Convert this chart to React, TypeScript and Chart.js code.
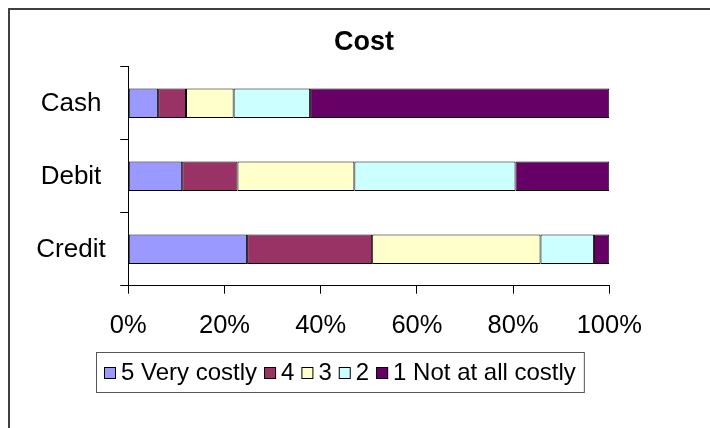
import React, { useEffect, useRef } from "react";
import { Chart, registerables } from "chart.js";

Chart.register(...registerables);

// Survey answers: share of respondents (in %) per payment method
const categories = ["Cash", "Debit", "Credit"];
const seriesLabels = ["5 Very costly", "4", "3", "2", "1 Not at all costly"];
const veryCostly = [6.2, 11.2, 24.7];
const rating4 = [5.8, 11.5, 26.0];
const rating3 = [9.9, 24.3, 35.0];
const rating2 = [15.9, 33.5, 11.1];
const notCostly = [62.2, 19.5, 3.2];
const seriesColors = ["#9999FF", "#993366", "#FFFFCC", "#CCFFFF", "#660066"];
const xTicks = [0, 20, 40, 60, 80, 100];
const chartTitle = "Cost";

const FONT = '"Liberation Sans", Arial, sans-serif';

// White background, outer frame, title and centred category labels
const framePlugin = {
  id: "frame",
  beforeDraw(chart: any) {
    const { ctx } = chart;
    ctx.save();
    ctx.fillStyle = "#ffffff";
    ctx.fillRect(0, 0, chart.width, chart.height);
    ctx.strokeStyle = "#404040";
    ctx.lineWidth = 2;
    ctx.strokeRect(9, 9, 1000, 1000);
    ctx.restore();
  },
  afterDraw(chart: any) {
    const { ctx } = chart;
    const yScale = chart.scales.y;
    ctx.save();
    ctx.fillStyle = "#000";
    ctx.textAlign = "center";
    ctx.textBaseline = "middle";
    ctx.font = `bold 27px ${FONT}`;
    ctx.fillText(chartTitle, 364, 43);
    ctx.font = `26px ${FONT}`;
    chart.data.labels.forEach((label: string, i: number) => {
      ctx.fillText(label, 71, yScale.getPixelForValue(i) + 1);
    });
    ctx.restore();
  },
};

// Boxed legend below the axis
const boxedLegendPlugin = {
  id: "boxedLegend",
  afterDraw(chart: any) {
    const { ctx } = chart;
    const datasets = chart.data.datasets;
    const x0 = 96;
    const y0 = 352;
    const h = 40;
    const sw = 12;
    const gapSwatchText = 5;
    const gapItems = 7;
    const padX = 8;
    ctx.save();
    ctx.font = `24px ${FONT}`;
    let w = padX;
    const widths = datasets.map((d: any) => ctx.measureText(d.label).width);
    widths.forEach((tw: number, i: number) => {
      w += sw + gapSwatchText + tw + (i < widths.length - 1 ? gapItems : 0);
    });
    w += padX;
    ctx.fillStyle = "#fff";
    ctx.fillRect(x0, y0, w, h);
    ctx.strokeStyle = "#555";
    ctx.lineWidth = 1;
    ctx.strokeRect(x0 + 0.5, y0 + 0.5, w, h);
    let x = x0 + padX;
    const cy = y0 + h / 2 + 1;
    datasets.forEach((d: any, i: number) => {
      ctx.fillStyle = d.backgroundColor;
      ctx.fillRect(x, cy - sw / 2, sw, sw);
      ctx.strokeStyle = "#000";
      ctx.strokeRect(x + 0.5, cy - sw / 2 + 0.5, sw - 1, sw - 1);
      x += sw + gapSwatchText;
      ctx.fillStyle = "#000";
      ctx.textBaseline = "middle";
      ctx.textAlign = "left";
      ctx.fillText(d.label, x, cy);
      x += widths[i] + gapItems;
    });
    ctx.restore();
  },
};

export default function App() {
  const canvasRef = useRef<HTMLCanvasElement | null>(null);

  useEffect(() => {
    if (!canvasRef.current) return;
    const series = [veryCostly, rating4, rating3, rating2, notCostly];
    const chart = new Chart(canvasRef.current, {
      type: "bar",
      data: {
        labels: categories,
        datasets: series.map((values, i) => ({
          label: seriesLabels[i],
          data: values,
          backgroundColor: seriesColors[i],
          borderColor: "#000000",
          borderWidth: 1,
          borderSkipped: false,
          barPercentage: 1,
          categoryPercentage: 0.405,
        })),
      },
      options: {
        indexAxis: "y",
        responsive: false,
        animation: false,
        layout: {
          padding: { left: 0, right: 100.7, top: 66.7, bottom: 82.3 },
        },
        plugins: {
          legend: { display: false },
          title: { display: false },
          tooltip: { enabled: false },
        },
        scales: {
          x: {
            stacked: true,
            min: 0,
            max: 100,
            afterBuildTicks(scale: any) {
              scale.ticks = xTicks.map((v) => ({ value: v }));
            },
            afterFit(scale: any) {
              scale.height = 60;
            },
            grid: {
              drawOnChartArea: false,
              drawTicks: true,
              tickLength: 8,
              color: "#000",
            },
            border: { display: true, color: "#000", width: 1 },
            ticks: {
              color: "#000",
              padding: 17,
              font: { family: FONT, size: 25.5 },
              callback: (v: any) => `${v}%`,
            },
          },
          y: {
            stacked: true,
            afterFit(scale: any) {
              scale.width = 128.3;
            },
            grid: {
              drawOnChartArea: false,
              drawTicks: true,
              tickLength: 8,
              color: "#000",
            },
            border: { display: true, color: "#000", width: 1 },
            ticks: { display: false },
          },
        },
      },
      plugins: [framePlugin, boxedLegendPlugin],
    });
    return () => chart.destroy();
  }, []);

  return (
    <div style={{ position: "absolute", left: 0, top: 0, width: 710, height: 428 }}>
      <canvas ref={canvasRef} width={710} height={428} style={{ width: 710, height: 428 }} />
    </div>
  );
}
